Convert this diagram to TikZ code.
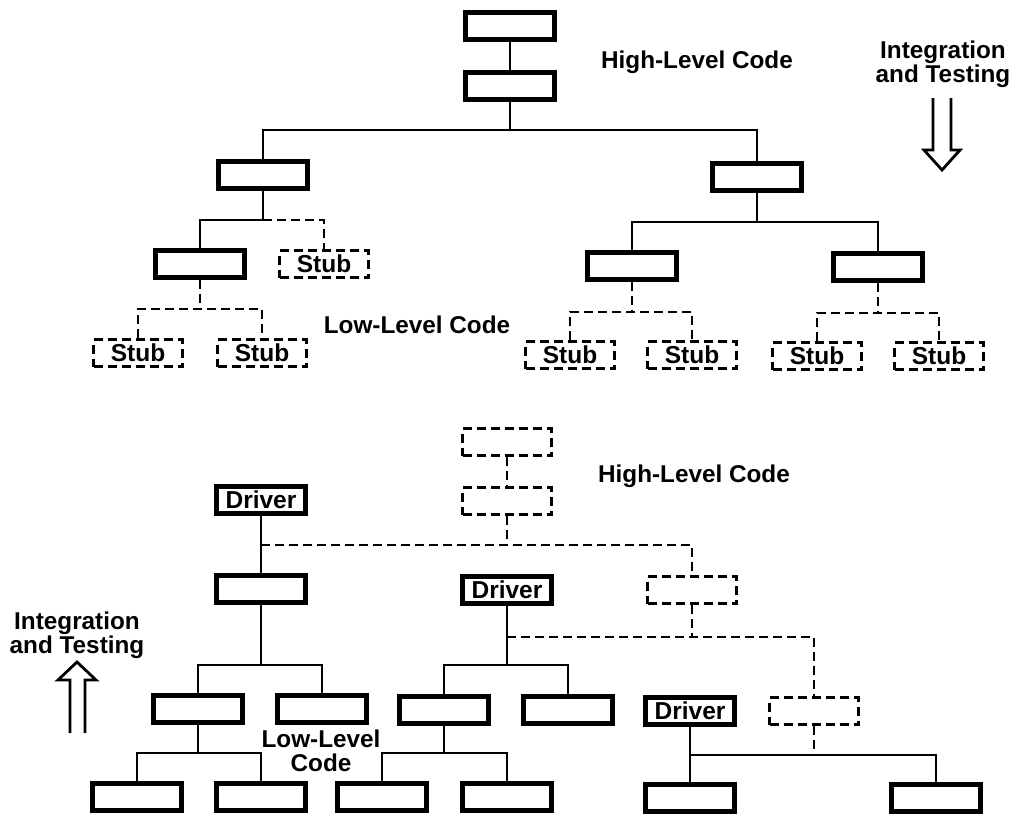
\documentclass[tikz,border=0pt]{standalone}
\usepackage{fontspec}
\setmainfont{Liberation Sans}
\tikzset{
  box/.style={draw, line width=4.2pt, minimum width=89pt, minimum height=27pt, inner sep=0pt,
    font=\bfseries\fontsize{24.5}{25}\selectfont},
  dbox/.style={box, line width=3pt, dash pattern=on 9pt off 5pt},
  conn/.style={line width=2.8pt},
  dconn/.style={line width=2.8pt, dash pattern=on 9pt off 5pt},
  lbl/.style={font=\bfseries\fontsize{24.3}{24}\selectfont, inner sep=0pt, align=center},
  bigarrow/.style={line width=2.8pt, line join=miter},
}
\newcommand{\stubtext}{\raisebox{-3pt}{Stub}}
\begin{document}
\begin{tikzpicture}[x=1pt,y=-1pt]
\fill[white] (0,0) rectangle (1014,817);
\useasboundingbox (0,0) rectangle (1014,817);

% ---------------- top tree ----------------
\node[box] (t1) at (510,26) {};
\node[box] (t2) at (510,86) {};
\node[box] (tL) at (263,175) {};
\node[box] (tR) at (757,177) {};
\node[box] (tLL) at (200,264) {};
\node[dbox] (tLS) at (324,264) {\stubtext};
\node[dbox] (s1) at (138,353) {\stubtext};
\node[dbox] (s2) at (262,353) {\stubtext};
\node[box] (tR1) at (632,266) {};
\node[box] (tR2) at (878,267) {};
\node[dbox] (s3) at (570,355) {\stubtext};
\node[dbox] (s4) at (692,355) {\stubtext};
\node[dbox] (s5) at (817,356) {\stubtext};
\node[dbox] (s6) at (939,356) {\stubtext};

\draw[conn] (t1) -- (t2);
\draw[conn] (t2.south) -- (t2.south |- 0,130) coordinate (jT);
\draw[conn] (tL.north) |- (jT) -| (tR.north);

\draw[conn] (tL.south) -- (tL.south |- 0,220) coordinate (jL);
\draw[conn] (jL) -| (tLL.north);
\draw[dconn] (jL) -| (tLS.north);
\draw[dconn] (tLL.south) -- (tLL.south |- 0,309) coordinate (jLL);
\draw[dconn] (s1.north) |- (jLL) -| (s2.north);

\draw[conn] (tR.south) -- (tR.south |- 0,222) coordinate (jR);
\draw[conn] (tR1.north) |- (jR) -| (tR2.north);
\draw[dconn] (tR1.south) -- (tR1.south |- 0,312) coordinate (jR1);
\draw[dconn] (s3.north) |- (jR1) -| (s4.north);
\draw[dconn] (tR2.south) -- (tR2.south |- 0,313) coordinate (jR2);
\draw[dconn] (s5.north) |- (jR2) -| (s6.north);

\node[lbl, anchor=base] (hl1) at (697,68) {High-Level Code};
\node[lbl, anchor=base] (ll1) at (417,333) {Low-Level Code};
\node[lbl] (it1) at (943,64) {Integration\\and Testing};
\draw[bigarrow] (933,98) -- (933,150) -- (924,150) -- (942,170) -- (960,150) -- (951,150) -- (951,98);

% ---------------- bottom tree ----------------
\node[dbox] (d1) at (507,442) {};
\node[dbox] (d2) at (507,501) {};
\node[box] (dr1) at (261,500) {Driver};
\node[box] (b1) at (261,589) {};
\node[dbox] (d3) at (692,590) {};
\node[box] (dr2) at (507,590) {Driver};
\node[box] (b11) at (198,709) {};
\node[box] (b12) at (322,709) {};
\node[box] (b21) at (444,710) {};
\node[box] (b22) at (568,710) {};
\node[box] (dr3) at (690,711) {Driver};
\node[dbox] (d4) at (814,711) {};
\node[box] (b111) at (137,797) {};
\node[box] (b112) at (261,797) {};
\node[box] (b211) at (382,797) {};
\node[box] (b212) at (507,797) {};
\node[box] (b31) at (690,798) {};
\node[box] (b32) at (936,798) {};

\draw[dconn] (d1) -- (d2);
\draw[dconn] (d2.south) -- (d2.south |- 0,545) coordinate (jD);
\draw[conn] (dr1) -- (b1);
\draw[dconn] (dr1.south |- jD) -| (d3.north);

\draw[conn] (b1.south) -- (b1.south |- 0,665) coordinate (jB1);
\draw[conn] (b11.north) |- (jB1) -| (b12.north);
\draw[conn] (b11.south) -- (b11.south |- 0,753) coordinate (jB11);
\draw[conn] (b111.north) |- (jB11) -| (b112.north);

\draw[conn] (dr2.south) -- (dr2.south |- 0,665) coordinate (jB2);
\draw[conn] (b21.north) |- (jB2) -| (b22.north);
\draw[dconn] (dr2.south |- 0,637) coordinate (jD2) -| (d4.north);
\draw[dconn] (d3.south) -- (d3.south |- jD2);
\draw[conn] (b21.south) -- (b21.south |- 0,753) coordinate (jB21);
\draw[conn] (b211.north) |- (jB21) -| (b212.north);

\draw[conn] (dr3) -- (b31);
\draw[conn] (dr3.south |- 0,755) coordinate (jB3) -| (b32.north);
\draw[dconn] (d4.south) -- (d4.south |- jB3);

\node[lbl, anchor=base] (hl2) at (694,482) {High-Level Code};
\node[lbl] (ll2) at (321,751) {Low-Level\\Code};
\node[lbl] (it2) at (77,635) {Integration\\and Testing};
\draw[bigarrow] (70,733) -- (70,680) -- (58,680) -- (77,662) -- (96,680) -- (85,680) -- (85,733);
\end{tikzpicture}
\end{document}
